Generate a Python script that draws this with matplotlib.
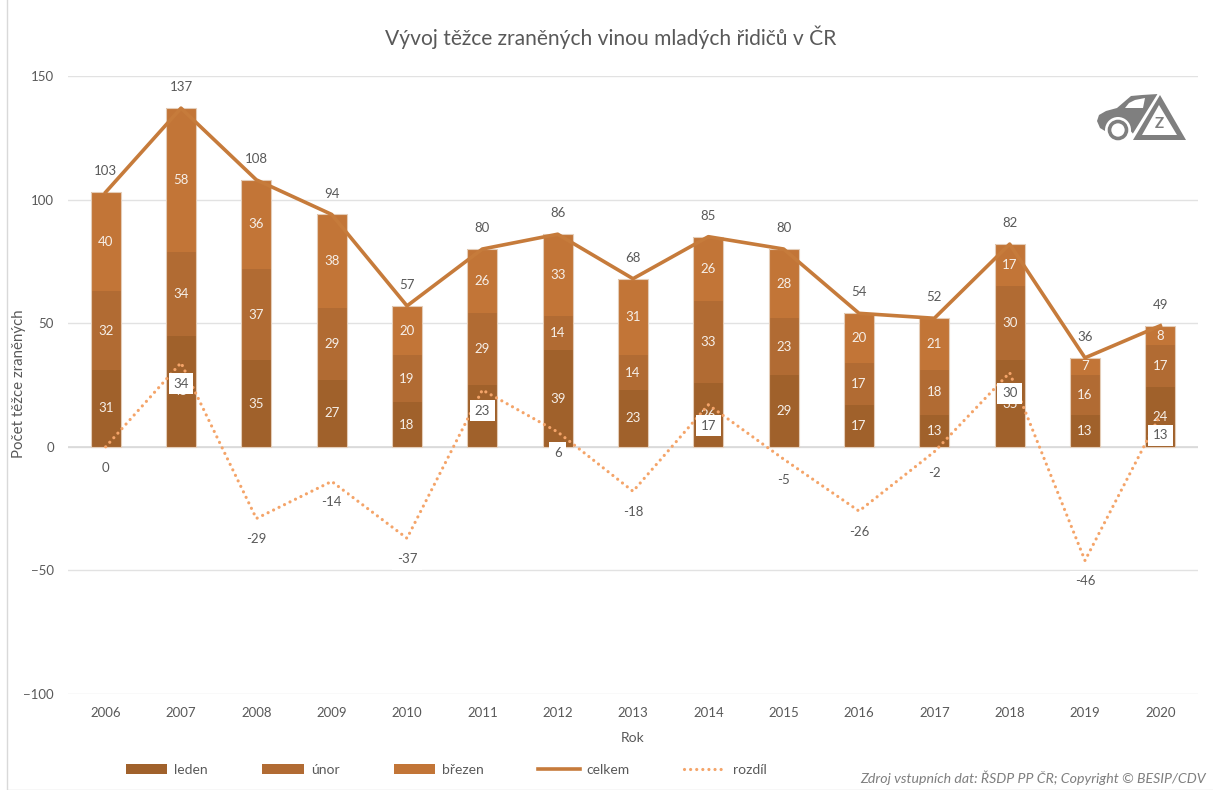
import matplotlib
matplotlib.use("Agg")
import matplotlib.pyplot as plt
from matplotlib.patches import Circle, Polygon, Rectangle

plt.rcParams["font.family"] = ["Lato", "DejaVu Sans"]

years = [2006, 2007, 2008, 2009, 2010, 2011, 2012, 2013, 2014, 2015, 2016, 2017, 2018, 2019, 2020]
leden = [31, 45, 35, 27, 18, 25, 39, 23, 26, 29, 17, 13, 35, 13, 24]
unor = [32, 34, 37, 29, 19, 29, 14, 14, 33, 23, 17, 18, 30, 16, 17]
brezen = [40, 58, 36, 38, 20, 26, 33, 31, 26, 28, 20, 21, 17, 7, 8]
celkem = [103, 137, 108, 94, 57, 80, 86, 68, 85, 80, 54, 52, 82, 36, 49]
rozdil = [0, 34, -29, -14, -37, 23, 6, -18, 17, -5, -26, -2, 30, -46, 13]
yticks = [-100, -50, 0, 50, 100, 150]

W, H = 1213, 790
text_col = "#595959"
grid_col = "#E2E2E2"
leden_col = "#A0612B"
unor_col = "#B16B33"
brezen_col = "#C27537"
celkem_col = "#C67B3B"
rozdil_col = "#F4A469"
edge_col = "#E4CDB8"


def fx(px):
    return px / W


def fy(py):
    return 1 - py / H


fig = plt.figure(figsize=(W / 100, H / 100), dpi=100)
fig.patches.append(Rectangle((fx(7), fy(790)), 1.2, 1.2, transform=fig.transFigure,
                             fill=False, edgecolor="#D9D9D9", lw=1))

ax = fig.add_axes([fx(68), fy(694), (1198 - 68) / W, (694 - 76) / H])
x = list(range(len(years)))
w = 0.4
bottom2 = [a for a in leden]
bottom3 = [a + b for a, b in zip(leden, unor)]
b1 = ax.bar(x, leden, w, color=leden_col, label="leden", zorder=2)
b2 = ax.bar(x, unor, w, bottom=bottom2, color=unor_col, label="únor", zorder=2)
b3 = ax.bar(x, brezen, w, bottom=bottom3, color=brezen_col, label="březen", zorder=2)
ax.bar(x, celkem, w, fill=False, edgecolor=edge_col, lw=0.8, zorder=2.5)
for b in (b1, b2, b3):
    ax.bar_label(b, label_type="center", color="#F6EFE8", fontsize=9.5, zorder=3)

ax.plot(x, celkem, color=celkem_col, lw=2.6, solid_joinstyle="round", label="celkem", zorder=4)
ax.plot(x, rozdil, color=rozdil_col, lw=2.3, linestyle=(0, (0.01, 1.9)),
        dash_capstyle="round", label="rozdíl", zorder=5)

for i, v in zip(x, celkem):
    ax.annotate(str(v), (i, v), xytext=(0, 15), textcoords="offset points", ha="center",
                va="center", color=text_col, fontsize=9.5, zorder=6)
for i, v in zip(x, rozdil):
    ax.annotate(str(v), (i, v), xytext=(0, -15), textcoords="offset points", ha="center",
                va="center", color=text_col, fontsize=9.5, zorder=6,
                bbox=dict(boxstyle="square,pad=0.35", facecolor="white", edgecolor="none"))

ax.set_xlim(-0.5, 14.5)
ax.set_ylim(-100, 150)
ax.set_xticks(x, years)
ax.set_yticks(yticks)
ax.tick_params(axis="both", length=0, labelsize=9.5, labelcolor=text_col)
ax.tick_params(axis="x", pad=9.5)
ax.tick_params(axis="y", pad=10)
ax.grid(axis="y", color=grid_col, lw=1, zorder=0)
ax.set_axisbelow(True)
for s in ax.spines.values():
    s.set_visible(False)
ax.axhline(0, color="#D9D9D9", lw=1.2, zorder=1)

fig.text(fx(611), fy(37), "Vývoj těžce zraněných vinou mladých řidičů v ČR", ha="center", va="center",
         fontsize=15.1, color=text_col)
fig.text(fx(19), fy(384), "Počet těžce zraněných", rotation=90, ha="center", va="center",
         fontsize=10.8, color=text_col)
fig.text(fx(633), fy(738), "Rok", ha="center", va="center", fontsize=10, color=text_col)
fig.text(fx(1206), fy(778), "Zdroj vstupních dat: ŘSDP PP ČR; Copyright © BESIP/CDV", ha="right",
         va="center", fontsize=10.2, style="italic", color="#7F7F7F")

handles, labels = ax.get_legend_handles_labels()
order = [labels.index(n) for n in ["leden", "únor", "březen", "celkem", "rozdíl"]]
fig.legend([handles[i] for i in order], [labels[i] for i in order], loc="center",
           bbox_to_anchor=(fx(446), fy(770)), ncol=5, frameon=False, fontsize=10,
           labelcolor=text_col, handlelength=3.0, handleheight=0.7, handletextpad=0.5,
           columnspacing=3.9, borderpad=0, borderaxespad=0)

# ikona auta s trojuhelnikem vpravo nahore, osa v pixelech obrazku
icon = "#7F7F7F"
axi = fig.add_axes([0, 0, 1, 1], facecolor="none")
axi.set_xlim(0, W)
axi.set_ylim(H, 0)
axi.axis("off")
axi.add_patch(Polygon([(1097, 121), (1099, 115), (1106, 111), (1117, 108), (1124, 102), (1131, 96), (1142, 95),
                       (1158, 94), (1135, 136), (1128, 128), (1108, 126), (1105, 131), (1100, 128)],
                      facecolor=icon, edgecolor="none"))
axi.add_patch(Polygon([(1125, 108), (1129, 103), (1135, 100), (1145, 98), (1143, 108)],
                      facecolor="white", edgecolor="none"))
axi.add_patch(Circle((1118, 130), 13, facecolor="white", edgecolor="none"))
axi.add_patch(Circle((1118, 130), 8.5, facecolor="white", edgecolor=icon, lw=2.6))
axi.add_patch(Polygon([(1160, 90), (1127, 143), (1192, 143)], facecolor="white", edgecolor="none"))
axi.add_patch(Polygon([(1160, 95), (1133, 140), (1186, 140)], facecolor=icon, edgecolor="none"))
axi.add_patch(Polygon([(1159, 105), (1142, 135), (1177, 135)], facecolor="white", edgecolor="none"))
axi.text(1159, 124, "Z", ha="center", va="center", fontsize=11, weight="bold", color=icon)

fig.savefig("out.png", dpi=100)
